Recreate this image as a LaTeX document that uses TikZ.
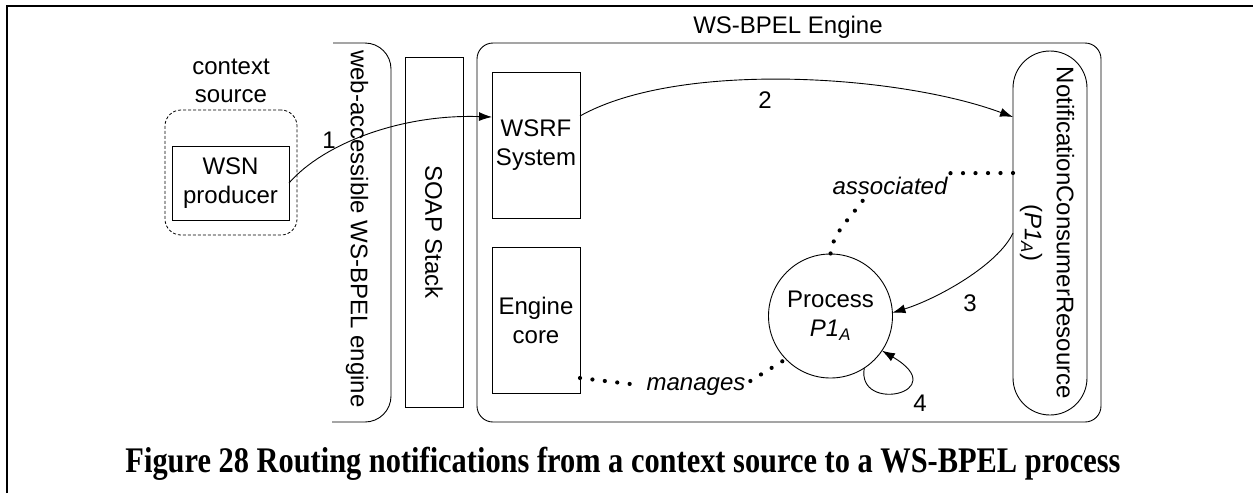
\documentclass[tikz,border=0pt]{standalone}
\usepackage{fontspec}
\usepackage{graphicx}
\setmainfont{Liberation Sans}
\newfontfamily\capfont{Liberation Serif}
\usetikzlibrary{arrows.meta,calc}
\begin{document}
\begin{tikzpicture}[x=1pt,y=-1pt,
  every node/.style={font=\fontsize{24}{29}\selectfont, inner sep=0pt, outer sep=0pt},
  box/.style={draw, line width=0.9pt, align=center},
  arr/.style={line width=0.9pt, -{Latex[length=13pt,width=9pt]}},
  dotline/.style={line width=4.2pt, dash pattern=on 0pt off 12.5pt, line cap=round},
  lbl/.style={align=center},
  itl/.style={font=\itshape\fontsize{24}{29}\selectfont}]
\useasboundingbox (0,0) rectangle (1253,493);
\draw[line width=2pt] (7,493) -- (7,6) -- (1253,6);

% context source
\node[lbl, font=\fontsize{24}{28}\selectfont] (ctxl) at (231,81) {context\\source};
\node[draw, dash pattern=on 3pt off 2pt, rounded corners=16pt, line width=0.8pt,
      minimum width=132pt, minimum height=125pt] (ctx) at (231,172.5) {};
\node[box, minimum width=117pt, minimum height=74pt] (wsn) at (230.5,183) {WSN\\producer};

% web-accessible bracket
\draw[line width=0.9pt, rounded corners=26pt] (333,43) -- (391,43) -- (391,422) -- (332,422);
\node[rotate=-90] (web) at (357,229) {web-accessible WS-BPEL engine};

% SOAP stack
\node[box, minimum width=58pt, minimum height=350pt] (soap) at (434,232) {};
\node[rotate=-90] (soapl) at (soap.center) {SOAP Stack};

% engine
\node[draw, line width=0.9pt, rounded corners=16pt, minimum width=624pt, minimum height=379pt] (eng) at (789,232.5) {};
\node (engl) at (788,27) {WS-BPEL Engine};

\node[box, minimum width=88pt, minimum height=146pt] (wsrf) at (536,145) {WSRF\\System};
\node[box, minimum width=88pt, minimum height=146pt] (ec) at (536,320) {Engine\\core};

\node[draw, line width=0.9pt, rounded corners=37pt, minimum width=74pt, minimum height=364pt] (ncr) at (1050,233) {};
\node[rotate=-90, align=center, font=\fontsize{24}{32}\selectfont] (ncrl) at (1047,233)
   {NotificationConsumerResource\\(\textit{P1}\textsubscript{\textit{A}})};

\node[circle, draw, line width=0.9pt, minimum size=124pt, align=center] (proc) at (830.5,316)
   {Process\\\textit{P1}\textsubscript{\textit{A}}};

% arrows
\draw[arr] (wsn.east) .. controls +(35,-40) and +(-90,-3) .. ([yshift=28pt]wsrf.west);
\node (n1) at (329,140) {1};
\draw[arr] ([yshift=29pt]wsrf.east) .. controls +(100,-56) and +(-113,-42) .. ([yshift=116pt]ncr.west);
\node (n2) at (765,100) {2};
\draw[arr] (ncr.west) .. controls +(-15,32) and +(45,-14) .. (proc.3);
\node (n3) at (970,303) {3};
\draw[arr] (proc.-57) .. controls +(-8,46) and +(72,42) .. (proc.-34);
\node (n4) at (920,403) {4};

% dotted relations
\node[itl] (asc) at (890,186) {associated};
\draw[dotline] ([yshift=60pt]ncr.west) -- ([yshift=4pt]asc.north east);
\draw[dotline] ([xshift=30pt,yshift=-6pt]asc.south west) .. controls +(-15,20) and +(2,-20) .. (proc.north);

\node[itl] (mng) at (696,387) {manages};
\draw[dotline] ([yshift=15pt]ec.south east) -- ([xshift=-8pt,yshift=2pt]mng.west);
\draw[dotline] ([xshift=5pt,yshift=6pt]mng.east) -- (proc.224);

% caption
\node[font=\capfont\bfseries\fontsize{36}{40}\selectfont, anchor=base] (cap) at (623,472)
   {\resizebox{995pt}{\height}{Figure 28 Routing notifications from a context source to a WS-BPEL process}};
\end{tikzpicture}
\end{document}
